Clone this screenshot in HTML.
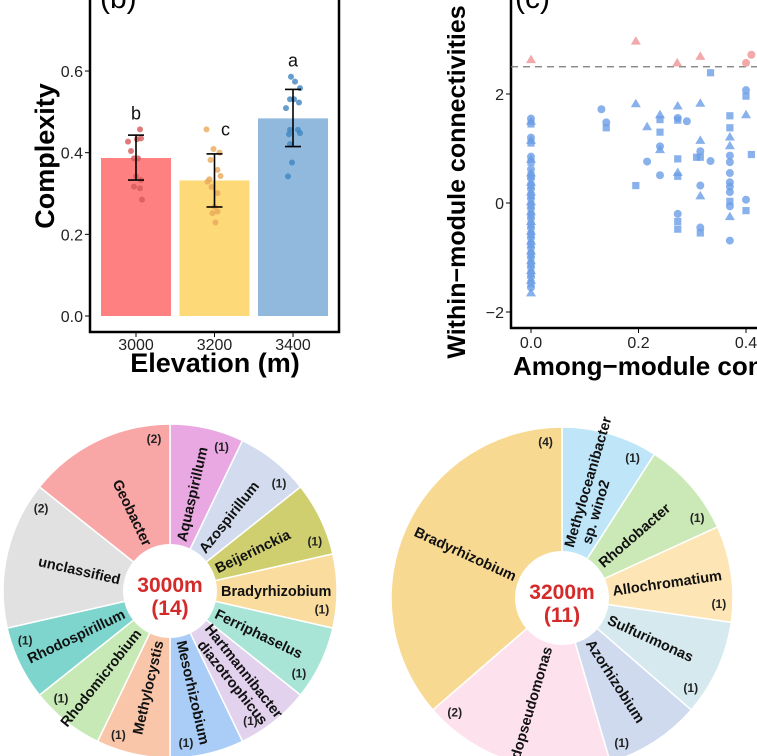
<!DOCTYPE html>
<html><head><meta charset="utf-8"><style>
html,body{margin:0;padding:0;background:#fff}
svg{display:block;font-family:"Liberation Sans",Arial,sans-serif}
</style></head><body>
<svg id="fig" width="757" height="756" viewBox="0 0 757 756" xmlns="http://www.w3.org/2000/svg">
<g id="panelB"></g>
<g id="panelC"></g>
<g id="pie1"></g>
<g id="pie2"></g>
</svg>
<script>
// ---------- Panel B data ----------
const barCats = ["3000","3200","3400"];
const barMeans = [0.387,0.332,0.484];
const barSdLow = [0.333,0.267,0.415];
const barSdHigh = [0.443,0.397,0.555];
const barLetters = ["b","c","a"];
const barColors = ["#fe8080","#fdd978","#90b9dd"];
const dotColors = ["#d45a5a","#e9a95a","#3f86c2"];
const yTicksB = [0,0.2,0.4,0.6];
const dots3000 = [0.457,0.427,0.433,0.435,0.404,0.386,0.386,0.342,0.333,0.317,0.313,0.285];
const dots3200 = [0.457,0.409,0.400,0.382,0.358,0.343,0.329,0.335,0.316,0.301,0.268,0.256,0.252,0.229];
const dots3400 = [0.586,0.574,0.558,0.531,0.531,0.523,0.509,0.456,0.456,0.448,0.445,0.421,0.376,0.342];
const jitter3000 = [4,-8,1,5,-5,-2,2,0,5,-2,4,6];
const jitter3200 = [-8,-1,5,-4,3,6,-7,-5,-3,3,0,3,-2,1];
const jitter3400 = [-2,2,7,-3,1,6,-7,-3,5,7,-4,-3,-1,-5];

// ---------- Panel C data ----------
const xTicksC = [0,0.2,0.4];
const yTicksC = [-2,0,2];
const threshold = 2.5;
const redX = [0,0.195,0.272,0.315,0.400,0.410];
const redY = [2.63,2.97,2.57,2.69,2.57,2.72];
const redShape = ["t","t","t","t","c","c"];
const blueX = [0.131,0.14,0.14,0.195,0.195,0.216,0.216,0.24,0.24,0.24,0.24,0.24,0.24,0.273,0.273,0.273,0.273,0.273,0.273,0.273,0.273,0.273,0.29,0.315,0.315,0.315,0.315,0.308,0.315,0.315,0.315,0.315,0.334,0.334,0.37,0.37,0.37,0.37,0.37,0.37,0.37,0.37,0.37,0.37,0.37,0.37,0.37,0.37,0.40,0.40,0.40,0.40,0.40,0.41];
const blueY = [1.72,1.48,1.38,1.82,0.32,1.40,0.76,1.62,1.53,1.30,1.04,0.98,0.51,1.78,1.56,1.52,0.81,0.56,0.49,-0.20,-0.34,-0.48,1.50,1.83,1.15,0.95,0.84,0.84,0.32,0.13,-0.45,-0.55,2.39,0.77,1.60,1.38,1.21,1.05,0.87,0.75,0.55,0.38,0.30,0.20,0.03,-0.06,-0.25,-0.69,2.07,1.96,1.62,0.06,-0.14,0.89];
const blueShape = ["c","c","s","t","s","t","c","t","s","s","c","t","c","t","c","s","s","t","s","c","s","s","c","t","t","c","s","s","c","t","c","s","s","c","s","s","t","t","c","c","c","c","c","c","s","c","t","c","c","s","t","c","s","s"];
const zeroY = [1.55,1.50,1.45,1.20,1.15,1.10,0.85,0.80,0.75,0.62,0.55,0.50,0.45,0.38,0.32,0.26,0.20,0.14,0.08,0.02,-0.04,-0.10,-0.16,-0.22,-0.28,-0.34,-0.40,-0.46,-0.52,-0.58,-0.64,-0.70,-0.76,-0.82,-0.88,-0.94,-1.00,-1.06,-1.12,-1.18,-1.24,-1.30,-1.36,-1.42,-1.48,-1.55,-1.65];

// ---------- Pie data ----------
const pie1Names = ["Aquaspirillum","Azospirillum","Beijerinckia","Bradyrhizobium","Ferriphaselus","Hartmannibacter|diazotrophicus","Mesorhizobium","Methylocystis","Rhodomicrobium","Rhodospirillum","unclassified","Geobacter"];
const pie1Counts = [1,1,1,1,1,1,1,1,1,1,2,2];
const pie1Colors = ["#eaa8e2","#d2dcee","#cfcf70","#f9dc9e","#a9e5d6","#e2d2ee","#a9cdf6","#f9c6aa","#c6e9b6","#7dd5cd","#e1e1e1","#f9a6a6"];
const pie2Names = ["Methyloceanibacter|sp. wino2","Rhodobacter","Allochromatium","Sulfurimonas","Azorhizobium","Rhodopseudomonas","Bradyrhizobium"];
const pie2Counts = [1,1,1,1,1,2,4];
const pie2Colors = ["#bfe5f9","#cae9b6","#fde5b6","#d6e9ee","#cfdaee","#fde2ee","#f8d992"];

const NS="http://www.w3.org/2000/svg";
function mk(parent,tag,attrs,text){const e=document.createElementNS(NS,tag);for(const k in attrs)e.setAttribute(k,attrs[k]);if(text!==undefined)e.textContent=text;parent.appendChild(e);return e;}

// ===== Panel B =====
(function(){
const g=document.getElementById('panelB');
const yB=v=>316-v*408.3;
const xB=i=>136+i*78.5;
const bw=70;
const frame=mk(g,'rect',{x:90,y:-10,width:249,height:342,fill:'none',stroke:'#000','stroke-width':2.5});


yTicksB.forEach(t=>{
  const l=mk(g,'line',{x1:85,x2:90,y1:yB(t),y2:yB(t),stroke:'#000','stroke-width':1});
  
  
  const tx=mk(g,'text',{x:83,y:yB(t)+6,'text-anchor':'end','font-size':16,fill:'#222'},t.toFixed(1));
  
  
});
barCats.forEach((c,i)=>{
  const b=mk(g,'rect',{x:xB(i)-bw/2,y:yB(barMeans[i]),width:bw,height:yB(0)-yB(barMeans[i]),fill:barColors[i]});
  
  
  const l=mk(g,'line',{x1:xB(i),x2:xB(i),y1:332,y2:337,stroke:'#000'});
  
  
  const t=mk(g,'text',{x:xB(i),y:350,'text-anchor':'middle','font-size':16,fill:'#222'},c);
  
  
});
const dots=[dots3000,dots3200,dots3400], jit=[jitter3000,jitter3200,jitter3400];
dots.forEach((arr,i)=>arr.forEach((v,j)=>{
  const d=mk(g,'circle',{cx:xB(i)+jit[i][j],cy:yB(v),r:3,fill:dotColors[i],'fill-opacity':0.8});
  
  
}));
barCats.forEach((c,i)=>{
  const e=mk(g,'g',{stroke:'#000','stroke-width':1.6});
  
  
  mk(e,'line',{x1:xB(i),x2:xB(i),y1:yB(barSdLow[i]),y2:yB(barSdHigh[i])});
  mk(e,'line',{x1:xB(i)-8,x2:xB(i)+8,y1:yB(barSdLow[i]),y2:yB(barSdLow[i])});
  mk(e,'line',{x1:xB(i)-8,x2:xB(i)+8,y1:yB(barSdHigh[i]),y2:yB(barSdHigh[i])});
  const top=Math.max(barSdHigh[i],Math.max(...dots[i]));
  const lt=mk(g,'text',{x:xB(i)+(i==1?11:0),y:yB(top)-(i==1?-6:10),'text-anchor':'middle','font-size':18,fill:'#111'},barLetters[i]);
  
  
});
const yt=mk(g,'text',{x:0,y:0,transform:'translate(54,156) rotate(-90)','text-anchor':'middle','font-size':27,'font-weight':'bold'},'Complexity');


const xt=mk(g,'text',{x:215,y:372,'text-anchor':'middle','font-size':27,'font-weight':'bold'},'Elevation (m)');


const pl=mk(g,'text',{x:100,y:8,'font-size':30},'(b)');


})();

// ===== Panel C =====
(function(){
const g=document.getElementById('panelC');
const xC=v=>531+v*537.5;
const yC=v=>203-v*54.5;
const ax=mk(g,'path',{d:'M511,-5 V328 H760',fill:'none',stroke:'#000','stroke-width':2.5});


yTicksC.forEach(t=>{
  const l=mk(g,'line',{x1:506,x2:511,y1:yC(t),y2:yC(t),stroke:'#000'});
  
  
  const tx=mk(g,'text',{x:504,y:yC(t)+6,'text-anchor':'end','font-size':16,fill:'#222'},t<0?'\u2212'+Math.abs(t):String(t));
  
  
});
xTicksC.forEach(t=>{
  const l=mk(g,'line',{x1:xC(t),x2:xC(t),y1:328,y2:333,stroke:'#000'});
  
  
  const tx=mk(g,'text',{x:xC(t),y:348,'text-anchor':'middle','font-size':16,fill:'#222'},t.toFixed(1));
  
  
});
const dl=mk(g,'line',{x1:511,x2:757,y1:yC(threshold),y2:yC(threshold),stroke:'#777','stroke-width':1.3,'stroke-dasharray':'7 5'});


function shape(x,y,s,col,op){
  let e;
  if(s==='c') e=mk(g,'circle',{cx:x,cy:y,r:4,fill:col,'fill-opacity':op});
  else if(s==='s') e=mk(g,'rect',{x:x-3.6,y:y-3.6,width:7.2,height:7.2,fill:col,'fill-opacity':op});
  else e=mk(g,'path',{d:`M${x},${y-5} L${x+5},${y+3.5} L${x-5},${y+3.5}Z`,fill:col,'fill-opacity':op});
  return e;
}
zeroY.forEach((v,i)=>{
  const e=shape(xC(0),yC(v),['c','t','s'][i%3],'#6c9de6',0.8);
  
  
});
blueX.forEach((v,i)=>{
  const e=shape(xC(v),yC(blueY[i]),blueShape[i],'#6c9de6',0.8);
  
  
});
redX.forEach((v,i)=>{
  const e=shape(xC(v),yC(redY[i]),redShape[i],'#f0a0a0',0.9);
  
  
});
const yt=mk(g,'text',{x:0,y:0,transform:'translate(465,182) rotate(-90)','text-anchor':'middle','font-size':25,'font-weight':'bold'},'Within\u2212module connectivities');


const xt=mk(g,'text',{x:513,y:375,'font-size':26,'font-weight':'bold'},'Among\u2212module connectivities');


const pl=mk(g,'text',{x:515,y:8,'font-size':30},'(c)');


})();

// ===== Pies =====
function drawPie(id,cx,cy,R,r0,names,counts,colors,title,total){
  const g=document.getElementById(id);
  const tot=counts.reduce((a,b)=>a+b,0);
  const pt=(comp,rad)=>{const a=(comp-90)*Math.PI/180;return [cx+rad*Math.cos(a),cy+rad*Math.sin(a)];};
  let acc=0;
  names.forEach((n,i)=>{
    const a0=acc/tot*360, a1=(acc+counts[i])/tot*360; acc+=counts[i];
    const p0=pt(a0,R),p1=pt(a1,R);
    const large=(a1-a0)>180?1:0;
    const s=mk(g,'path',{d:`M${cx},${cy} L${p0[0]},${p0[1]} A${R},${R} 0 ${large} 1 ${p1[0]},${p1[1]} Z`,fill:colors[i],stroke:'#fff','stroke-width':1.5});
    
    
    const mid=(a0+a1)/2, th=mid-90;
    const right=(mid<180);
    const rot=right?th:th+180;
    const p=pt(mid,r0+4);
    const lines=n.split('|');
    const tg=mk(g,'text',{x:0,y:0,transform:`translate(${p[0]},${p[1]}) rotate(${rot})`,'text-anchor':right?'start':'end','font-size':14.5,'font-weight':'bold',fill:'#111'});
    
    
    lines.forEach((ln,k)=>{
      const ts=mk(tg,'tspan',{x:0,dy:k==0?(lines.length>1?-3:5):16},ln);
      if(k>0) ts.setAttribute('x', right?8:-8);
    });
    const cp=pt(a1-6,R-14);
    const ct=mk(g,'text',{x:cp[0],y:cp[1]+4,'text-anchor':'middle','font-size':12,'font-weight':'bold',fill:'#222'},'('+counts[i]+')');
    
    
  });
  const c=mk(g,'circle',{cx:cx,cy:cy,r:r0,fill:'#fff'});
  
  
  const t1=mk(g,'text',{x:cx,y:cy+1,'text-anchor':'middle','font-size':21,'font-weight':'bold',fill:'#d42a2a'},title);
  
  
  const t2=mk(g,'text',{x:cx,y:cy+24,'text-anchor':'middle','font-size':21,'font-weight':'bold',fill:'#d42a2a'},'('+total+')');
  
  
}
drawPie('pie1',170,591,167,47,pie1Names,pie1Counts,pie1Colors,'3000m',pie1Counts.reduce((a,b)=>a+b,0));
drawPie('pie2',562,598,171,47,pie2Names,pie2Counts,pie2Colors,'3200m',pie2Counts.reduce((a,b)=>a+b,0));
</script>
</body></html>
